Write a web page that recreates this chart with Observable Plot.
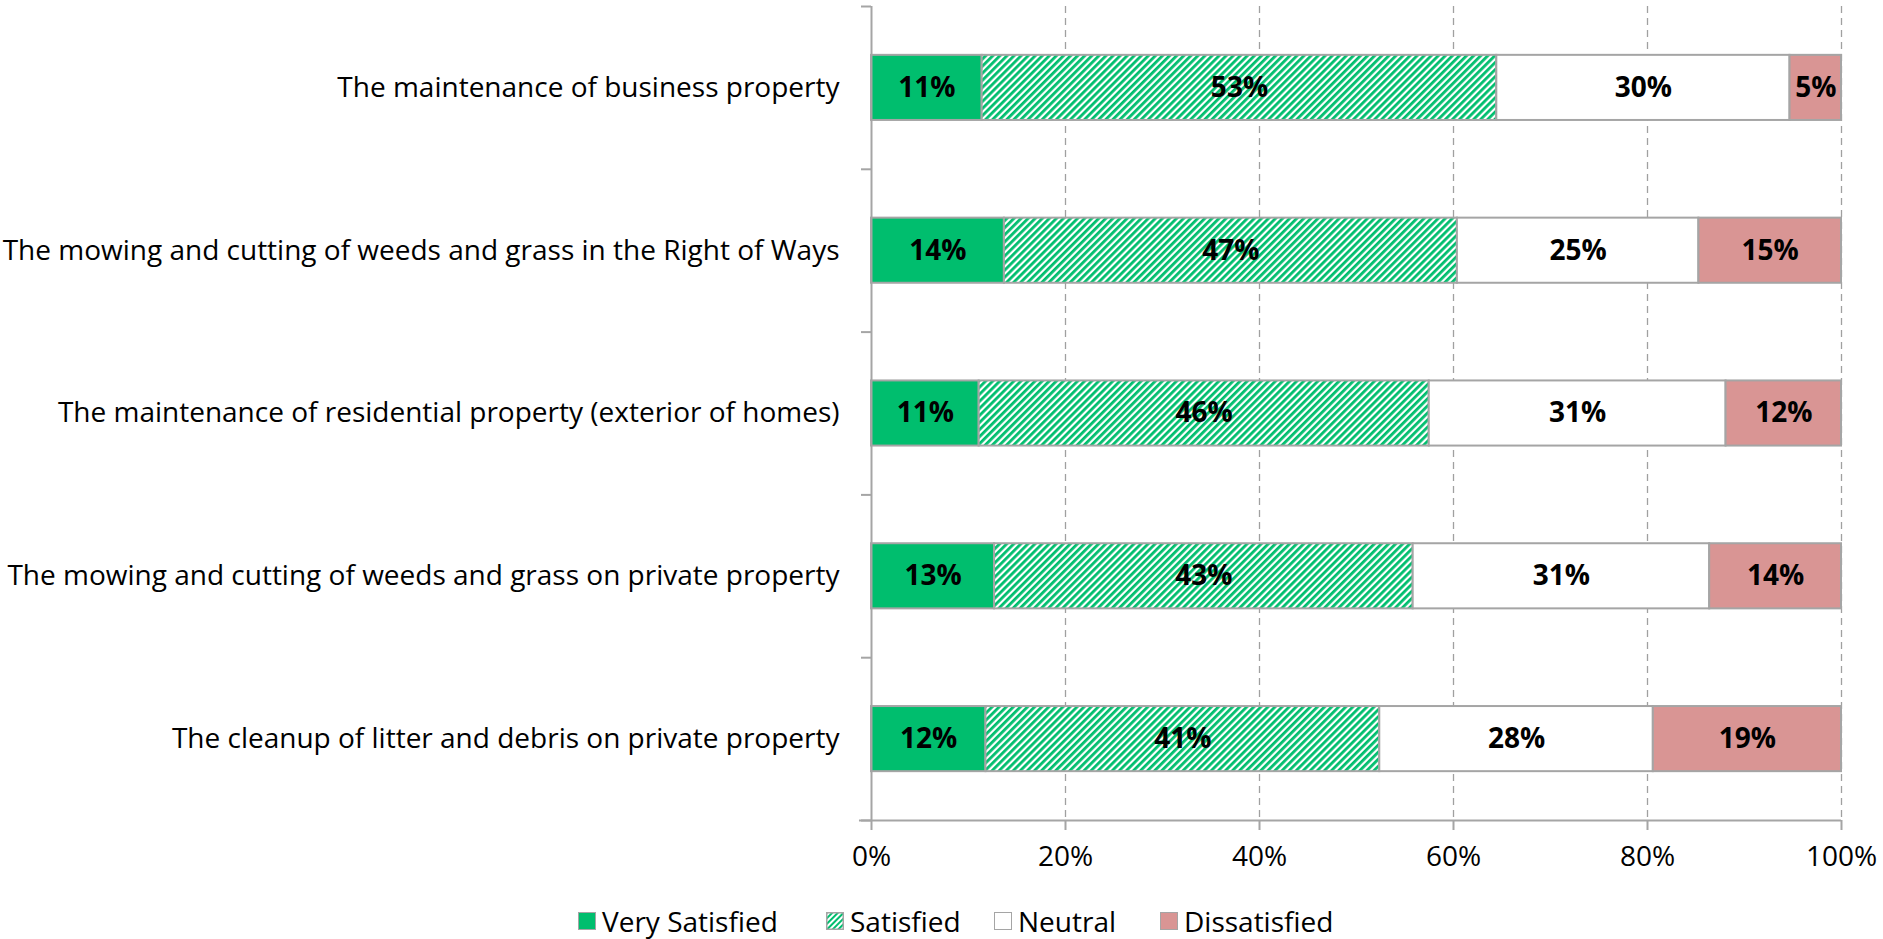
<!DOCTYPE html>
<html><head><meta charset="utf-8">
<script src="https://cdn.jsdelivr.net/npm/d3@7"></script>
<script src="https://cdn.jsdelivr.net/npm/@observablehq/plot@0.6"></script>
<style>
body{margin:0;background:#fff;font-family:"Open Sans", sans-serif;}
#wrap{position:relative;width:1883px;height:939px;overflow:hidden;}
#legend{position:absolute;top:903px;left:0;width:1883px;height:36px;font-size:28px;color:#000;}
.item{position:absolute;top:0;display:flex;align-items:center;height:36px;white-space:nowrap}
.sw{width:18px;height:18px;border:1.5px solid #A5A5A5;margin-right:6px;display:block;box-sizing:border-box}
</style></head>
<body><div id="wrap"><div id="chart"></div><div id="legend"></div></div>
<script>
const categories = [
  "The maintenance of business property",
  "The mowing and cutting of weeds and grass in the Right of Ways",
  "The maintenance of residential property (exterior of homes)",
  "The mowing and cutting of weeds and grass on private property",
  "The cleanup of litter and debris on private property"
];
const series = ["Very Satisfied", "Satisfied", "Neutral", "Dissatisfied"];
const verySatisfied = [11.4, 13.7, 11.1, 12.7, 11.8];
const satisfied     = [53.0, 46.7, 46.4, 43.2, 40.6];
const neutral       = [30.2, 24.9, 30.6, 30.6, 28.2];
const dissatisfied  = [5.3, 14.7, 11.9, 13.6, 19.4];
const xTicks = [0, 0.2, 0.4, 0.6, 0.8, 1];

const green = "#00BE6E";
const colors = {"Very Satisfied": green, "Satisfied": "url(#hatch)", "Neutral": "#FFFFFF", "Dissatisfied": "#D99594"};
const seriesValues = [verySatisfied, satisfied, neutral, dissatisfied];

const rows = [];
categories.forEach((c, i) => {
  const vals = seriesValues.map(s => s[i]);
  const total = d3.sum(vals);
  let cum = 0;
  vals.forEach((v, k) => {
    rows.push({category: c, i, series: series[k], value: v, x1: cum / total, x2: (cum + v) / total});
    cum += v;
  });
});

const defsMark = () => {
  const defs = d3.create("svg:defs");
  const p = defs.append("pattern").attr("id", "hatch").attr("patternUnits", "userSpaceOnUse")
    .attr("width", 5).attr("height", 5).attr("patternTransform", "rotate(45)");
  p.append("rect").attr("width", 5).attr("height", 5).attr("fill", "#fff");
  p.append("rect").attr("width", 2.8).attr("height", 5).attr("fill", green);
  return defs.node();
};

const gray = "#A5A5A5";
const FONT = "'Open Sans', sans-serif";
const chart = Plot.plot({
  width: 1883, height: 895,
  marginLeft: 871, marginRight: 42, marginTop: 6, marginBottom: 75,
  style: {fontFamily: FONT, fontSize: "28px", color: "#000", background: "#fff"},
  x: {domain: [0, 1]},
  y: {domain: [0, 5], reverse: true},
  marks: [
    defsMark,
    Plot.gridX(xTicks.slice(1), {stroke: "#A0A0A0", strokeOpacity: 1, strokeWidth: 1.3, strokeDasharray: "7,5"}),
    Plot.rect(rows, {x1: "x1", x2: "x2", y1: d => d.i + 0.3, y2: d => d.i + 0.7,
      fill: d => colors[d.series], stroke: gray, strokeWidth: 2}),
    Plot.text(rows, {x: d => (d.x1 + d.x2) / 2, y: d => d.i + 0.5,
      text: d => Math.round(d.value) + "%", fontWeight: "bold", fontSize: 28, fill: "#000"}),
    Plot.ruleX([0], {stroke: gray, strokeWidth: 2}),
    Plot.ruleY([5], {x1: -0.0124, x2: 1, stroke: gray, strokeWidth: 2}),
    Plot.axisY(d3.range(6), {tickSize: 10, tickFormat: () => "", stroke: gray, strokeWidth: 2, label: null}),
    Plot.axisY(d3.range(5).map(i => i + 0.5), {tickSize: 0, tickPadding: 32,
      tickFormat: v => categories[Math.floor(v)], label: null, fontSize: 28, fill: "#000"}),
    Plot.axisX(xTicks, {tickSize: 10, tickPadding: 16, tickFormat: d3.format(".0%"),
      stroke: gray, strokeWidth: 2, label: null, fontSize: 28, fill: "#000"})
  ]
});
document.getElementById("chart").appendChild(chart);

const legendLeft = [578, 826, 994, 1160];
const legend = document.getElementById("legend");
series.forEach((s, k) => {
  const item = document.createElement("div");
  item.className = "item";
  item.style.left = legendLeft[k] + "px";
  const fill = s === "Satisfied"
    ? `<svg class="sw" width="18" height="18" style="border:none"><defs><pattern id="hatchL" patternUnits="userSpaceOnUse" width="4" height="4" patternTransform="rotate(45)"><rect width="4" height="4" fill="#fff"/><rect width="2" height="4" fill="${green}"/></pattern></defs><rect x="0.75" y="0.75" width="16.5" height="16.5" fill="url(#hatchL)" stroke="${gray}" stroke-width="1.5"/></svg>`
    : `<span class="sw" style="background:${colors[s]}"></span>`;
  item.innerHTML = fill + `<span>${s}</span>`;
  legend.appendChild(item);
});
</script>
</body></html>
